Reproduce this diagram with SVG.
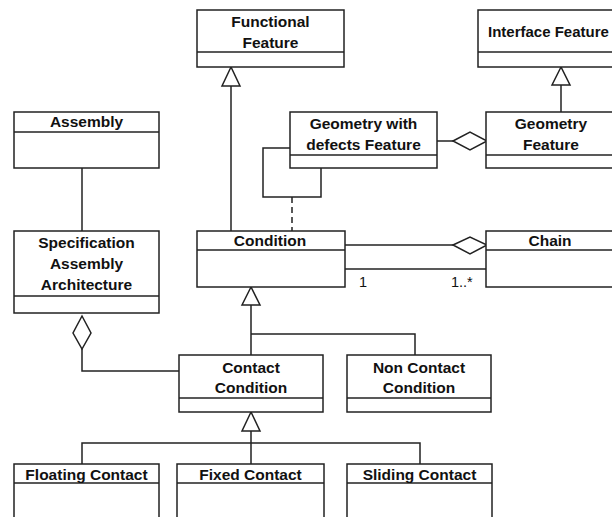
<svg xmlns="http://www.w3.org/2000/svg" width="612" height="517" viewBox="0 0 612 517">
<style>
.box{fill:#fff;stroke:#222;stroke-width:1.5}
.ln{fill:none;stroke:#222;stroke-width:1.5}
.t{font-family:"Liberation Sans",Arial,sans-serif;font-weight:bold;font-size:15.5px;fill:#111;text-anchor:middle}
.lbl{font-family:"Liberation Sans",Arial,sans-serif;font-size:14.5px;fill:#111}
.tri{fill:#fff;stroke:#222;stroke-width:1.5}
.dia{fill:#fff;stroke:#222;stroke-width:1.5}
</style>
<rect width="612" height="517" fill="#fff"/>
<g id="connectors">
  <path class="ln" d="M231,86 V231"/>
  <polygon class="tri" points="231,67 222,86 240,86"/>
  <path class="ln" d="M561,85 V112"/>
  <polygon class="tri" points="561,67 552,85 570,85"/>
  <path class="ln" d="M437,141 H453"/>
  <polygon class="dia" points="453,141 470,132 487,141 470,150"/>
  <path class="ln" d="M290,148 H263 V197 H321 V168"/>
  <path class="ln" d="M292,197 V231" stroke-dasharray="6,4"/>
  <path class="ln" d="M345,245 H453"/>
  <polygon class="dia" points="453,245 470,237 487,245 470,254"/>
  <path class="ln" d="M345,269 H486"/>
  <text class="lbl" x="359" y="287">1</text>
  <text class="lbl" x="451" y="287">1..*</text>
  <path class="ln" d="M82,168 V231"/>
  <polygon class="dia" points="82,316 73,333 82,349 91,333"/>
  <path class="ln" d="M82,349 V371 H179"/>
  <polygon class="tri" points="251,287 242,305 260,305"/>
  <path class="ln" d="M251,305 V355 M251,334 H415 V355"/>
  <polygon class="tri" points="251,412 242,431 260,431"/>
  <path class="ln" d="M251,431 V464 M82,464 V443 H420 V464"/>
</g>
<g id="functional-feature">
  <rect class="box" x="197" y="10" width="147" height="57"/>
  <path class="ln" d="M197,52 H344"/>
  <text class="t" x="270.5" y="27">Functional</text>
  <text class="t" x="270.5" y="48">Feature</text>
</g>
<g id="interface-feature">
  <rect class="box" x="478" y="10" width="150" height="57"/>
  <path class="ln" d="M478,52 H628"/>
  <text class="t" x="488" y="37" style="text-anchor:start;font-size:15px">Interface Feature</text>
</g>
<g id="geometry-defects-feature">
  <rect class="box" x="290" y="112" width="147" height="56"/>
  <path class="ln" d="M290,155 H437"/>
  <text class="t" x="363.5" y="129">Geometry with</text>
  <text class="t" x="363.5" y="150">defects Feature</text>
</g>
<g id="geometry-feature">
  <rect class="box" x="486" y="112" width="140" height="56"/>
  <path class="ln" d="M486,155 H626"/>
  <text class="t" x="551" y="129">Geometry</text>
  <text class="t" x="551" y="150">Feature</text>
</g>
<g id="assembly">
  <rect class="box" x="14" y="112" width="145" height="56"/>
  <path class="ln" d="M14,132 H159"/>
  <text class="t" x="86.5" y="127">Assembly</text>
</g>
<g id="spec-assembly-architecture">
  <rect class="box" x="14" y="231" width="145" height="82"/>
  <path class="ln" d="M14,296 H159"/>
  <text class="t" x="86.5" y="248">Specification</text>
  <text class="t" x="86.5" y="269">Assembly</text>
  <text class="t" x="86.5" y="290">Architecture</text>
</g>
<g id="condition">
  <rect class="box" x="197" y="231" width="148" height="56"/>
  <path class="ln" d="M197,250 H345"/>
  <text class="t" x="270" y="246">Condition</text>
</g>
<g id="chain">
  <rect class="box" x="486" y="231" width="140" height="56"/>
  <path class="ln" d="M486,250 H626"/>
  <text class="t" x="550" y="246">Chain</text>
</g>
<g id="contact-condition">
  <rect class="box" x="179" y="355" width="144" height="57"/>
  <path class="ln" d="M179,398 H323"/>
  <text class="t" x="251" y="373">Contact</text>
  <text class="t" x="251" y="393">Condition</text>
</g>
<g id="non-contact-condition">
  <rect class="box" x="347" y="355" width="144" height="57"/>
  <path class="ln" d="M347,398 H491"/>
  <text class="t" x="419" y="373">Non Contact</text>
  <text class="t" x="419" y="393">Condition</text>
</g>
<g id="floating-contact">
  <rect class="box" x="14" y="464" width="145" height="70"/>
  <path class="ln" d="M14,483 H159"/>
  <text class="t" x="86.5" y="480">Floating Contact</text>
</g>
<g id="fixed-contact">
  <rect class="box" x="177" y="464" width="147" height="70"/>
  <path class="ln" d="M177,483 H324"/>
  <text class="t" x="250.5" y="480">Fixed Contact</text>
</g>
<g id="sliding-contact">
  <rect class="box" x="347" y="464" width="145" height="70"/>
  <path class="ln" d="M347,483 H492"/>
  <text class="t" x="419.5" y="480">Sliding Contact</text>
</g>
</svg>
